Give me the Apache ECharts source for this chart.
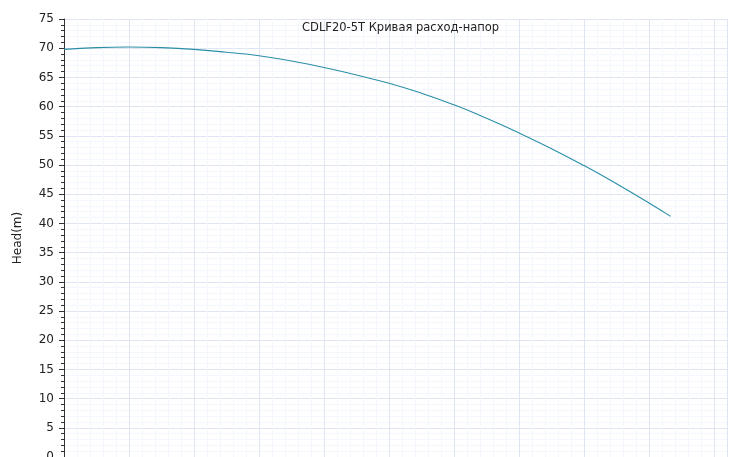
<!DOCTYPE html>
<html>
<head>
<meta charset="utf-8">
<script src="https://cdn.jsdelivr.net/npm/echarts@6/dist/echarts.min.js"></script>
<style>html,body{margin:0;padding:0;background:#fff}#c{width:729px;height:457px}</style>
</head>
<body>
<div id="c"></div>
<script>
const titleText = 'CDLF20-5T Кривая расход-напор';
const yName = 'Head(m)';
const flow = [0, 1.5, 3, 4.5, 6, 7.5, 9, 10.5, 12, 13.5, 15, 16.5, 18, 19.5, 21, 22.5, 24, 25.5, 27, 28];
const head = [69.8, 70.1, 70.2, 70.1, 69.8, 69.3, 68.7, 67.8, 66.7, 65.4, 64.0, 62.3, 60.3, 58.0, 55.5, 52.8, 49.9, 46.8, 43.5, 41.2];
const yTicks = [0, 75, 5];

const FONT = 'DejaVu Sans';
const chart = echarts.init(document.getElementById('c'));
chart.setOption({
  animation: false,
  title: {
    text: titleText, left: 302, top: 22, padding: 0,
    textStyle: { fontFamily: FONT, fontSize: 11.5, fontWeight: 'normal', color: '#222' }
  },
  grid: { left: 64, right: 2, top: 19, bottom: 0, containLabel: false, outerBoundsMode: 'none' },
  xAxis: [
    { type: 'value', min: 0, max: 30.6, interval: 0.6, show: true,
      axisLine: { show: false }, axisTick: { show: false }, axisLabel: { show: false },
      splitLine: { show: true, lineStyle: { color: '#F4F7FD', width: 1 } } },
    { type: 'value', min: 0, max: 30.6, interval: 3,
      axisLine: { show: false }, axisTick: { show: false }, axisLabel: { show: false },
      splitLine: { show: true, lineStyle: { color: '#E0E6F1', width: 1 } } }
  ],
  yAxis: {
    type: 'value', min: yTicks[0], max: yTicks[1], interval: yTicks[2],
    name: yName, nameLocation: 'middle', nameGap: 40,
    nameTextStyle: { fontFamily: FONT, fontSize: 12, color: '#222' },
    axisLine: { show: true, lineStyle: { color: '#333' } },
    axisTick: { show: true, length: 5, lineStyle: { color: '#333' } },
    minorTick: { show: true, splitNumber: 5, length: 3, lineStyle: { color: '#333' } },
    axisLabel: { fontFamily: FONT, fontSize: 12, color: '#222', margin: 10 },
    splitLine: { show: true, lineStyle: { color: '#E0E6F1' } },
    minorSplitLine: { show: true, lineStyle: { color: '#F4F7FD' } }
  },
  series: [{
    type: 'line', xAxisIndex: 1, smooth: true, showSymbol: false,
    data: flow.map((q, i) => [q, head[i]]),
    lineStyle: { color: '#2a8ea8', width: 1.1 }, itemStyle: { color: '#2a8ea8' }
  }]
});
</script>
</body>
</html>
